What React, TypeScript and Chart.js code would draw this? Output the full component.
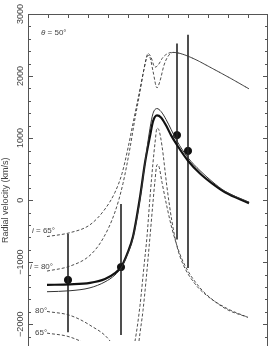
import React, { useEffect, useRef } from "react";
import { Chart, registerables } from "chart.js";

Chart.register(...registerables);

// Axis ranges (x: arbitrary phase units, y: radial velocity km/s)
const xRange = [0, 12];
const yRange = [-2270, 3000];
const yTickLabels = [3000, 2000, 1000, 0, -1000, -2000];
const xTopTicks = [1, 2, 3, 4, 5, 6, 7, 8, 9, 10, 11];

// Thick solid model curve
const thickX = [0.95, 2.1, 3.1, 3.85, 4.35, 4.65, 4.95, 5.25, 5.6, 5.85, 6.1, 6.25, 6.45, 6.65, 6.9, 7.15, 7.45, 8.0, 8.6, 9.2, 9.85, 11.05];
const thickY = [-1365, -1357, -1333, -1270, -1175, -1079, -873, -587, 48, 603, 1032, 1270, 1365, 1333, 1206, 1048, 889, 635, 429, 270, 127, -48];

// Thin solid model curve
const thinX = [0.95, 2.1, 3.1, 3.85, 4.35, 4.65, 4.95, 5.25, 5.6, 5.85, 6.1, 6.25, 6.45, 6.65, 6.9, 7.15, 7.45, 8.0, 8.6, 9.2, 9.85, 11.05];
const thinY = [-1476, -1460, -1413, -1317, -1206, -1095, -889, -603, 16, 603, 1159, 1397, 1476, 1429, 1302, 1143, 952, 683, 476, 302, 143, -32];

// Upper dashed, i = 65°
const up65X = [0.95, 2.1, 3.1, 3.85, 4.35, 4.7, 5.0, 5.25, 5.5, 5.75, 5.9, 6.0, 6.15, 6.35, 6.5, 6.75, 7.0, 7.25, 7.6, 8.35, 9.1, 10.1, 11.05];
const up65Y = [-587, -524, -397, -143, 127, 429, 841, 1238, 1635, 2032, 2270, 2365, 2302, 2143, 2175, 2302, 2365, 2381, 2365, 2270, 2143, 1968, 1794];

// Upper dashed, i = 80°
const up80X = [0.95, 2.1, 3.1, 3.75, 4.35, 4.75, 5.1, 5.35, 5.6, 5.8, 6.0, 6.1, 6.25, 6.45, 6.6, 6.8, 7.0, 7.25, 7.6, 8.35, 9.1, 10.1, 11.05];
const up80Y = [-1143, -1063, -889, -619, -190, 270, 841, 1317, 1746, 2111, 2333, 2302, 2079, 1810, 1921, 2175, 2317, 2381, 2365, 2270, 2143, 1968, 1794];

// Lower dashed, i = 80°
const lo80X = [0.95, 2.1, 3.1, 4.1, 4.6, 5.0, 5.35, 5.6, 5.8, 5.95, 6.1, 6.25, 6.35, 6.45, 6.55, 6.7, 6.95, 7.2, 7.45, 7.75, 8.35, 8.95, 9.95, 11.0];
const lo80Y = [-1794, -1857, -2016, -2270, -2571, -2683, -2270, -1698, -1063, -587, 48, 603, 921, 1159, 1127, 873, 206, -349, -746, -1032, -1349, -1540, -1746, -1889];

// Lower dashed, i = 65°
const lo65X = [0.95, 2.1, 3.1, 4.1, 5.0, 5.35, 5.55, 5.75, 5.9, 6.1, 6.25, 6.35, 6.45, 6.55, 6.7, 6.95, 7.2, 7.6, 8.0, 8.6, 9.1, 9.95, 11.0];
const lo65Y = [-2143, -2206, -2365, -2683, -3048, -2889, -2270, -1778, -1302, -587, -32, 317, 571, 540, 286, -111, -460, -873, -1143, -1413, -1571, -1762, -1889];

// Observations with error bars
const obsX = [2.0, 4.65, 7.45, 8.0];
const obsY = [-1286, -1079, 1048, 794];
const obsLow = [-2127, -2175, -635, -1095];
const obsHigh = [-540, -63, 2524, 2667];

const toPts = (xs: number[], ys: number[]) => xs.map((x, i) => ({ x, y: ys[i] }));

const FONT = "'Liberation Sans', 'DejaVu Sans', sans-serif";

export default function App() {
  const ref = useRef<HTMLCanvasElement | null>(null);

  useEffect(() => {
    document.body.style.margin = "0";
    const canvas = ref.current;
    if (!canvas) return;

    const dashed = (data: { x: number; y: number }[]) => ({
      type: "line" as const,
      data,
      borderColor: "#3a3a3a",
      borderWidth: 0.9,
      borderDash: [3, 2],
      pointRadius: 0,
      cubicInterpolationMode: "monotone" as const,
      fill: false,
    });

    const errDatasets = obsX.map((x, i) => ({
      type: "line" as const,
      data: [
        { x, y: obsLow[i] },
        { x, y: obsHigh[i] },
      ],
      borderColor: "#222",
      borderWidth: 1.6,
      pointRadius: 0,
      fill: false,
    }));

    const axesPlugin = {
      id: "axesPlugin",
      afterDraw(chart: any) {
        const { ctx, chartArea } = chart;
        const { left, top, right, bottom } = chartArea;
        const xs = chart.scales.x;
        const ys = chart.scales.y;
        ctx.save();
        ctx.strokeStyle = "#555";
        ctx.lineWidth = 1;
        ctx.beginPath();
        ctx.moveTo(left + 0.5, bottom + 5);
        ctx.lineTo(left + 0.5, top + 0.5);
        ctx.lineTo(right - 0.5, top + 0.5);
        ctx.lineTo(right - 0.5, bottom + 5);
        ctx.stroke();

        // y ticks, both sides
        ctx.beginPath();
        for (let v = -2200; v <= 3000; v += 200) {
          const py = Math.round(ys.getPixelForValue(v)) + 0.5;
          const len = v % 1000 === 0 ? 5 : 3;
          ctx.moveTo(left, py);
          ctx.lineTo(left + len, py);
          ctx.moveTo(right, py);
          ctx.lineTo(right - len, py);
        }
        // top ticks
        xTopTicks.forEach((t) => {
          const px = Math.round(xs.getPixelForValue(t)) + 0.5;
          ctx.moveTo(px, top);
          ctx.lineTo(px, top + 4);
        });
        ctx.stroke();

        // y tick labels (rotated)
        ctx.fillStyle = "#444";
        ctx.font = `9px ${FONT}`;
        ctx.textAlign = "center";
        ctx.textBaseline = "middle";
        yTickLabels.forEach((v) => {
          const py = ys.getPixelForValue(v);
          ctx.save();
          ctx.translate(left - 7, py);
          ctx.rotate(-Math.PI / 2);
          ctx.fillText(v < 0 ? "\u2212" + Math.abs(v) : String(v), 0, 0);
          ctx.restore();
        });

        // y axis title
        ctx.save();
        ctx.translate(6, ys.getPixelForValue(0));
        ctx.rotate(-Math.PI / 2);
        ctx.font = `9px ${FONT}`;
        ctx.fillText("Radial velocity (km/s)", 0, 0);
        ctx.restore();

        // annotations
        ctx.textAlign = "left";
        ctx.font = `8px ${FONT}`;
        const lab = (parts: [string, boolean][], vx: number, vy: number) => {
          let px = xs.getPixelForValue(vx);
          const py = ys.getPixelForValue(vy);
          parts.forEach(([s, it]) => {
            ctx.font = `${it ? "italic " : ""}8px ${FONT}`;
            ctx.fillText(s, px, py);
            px += ctx.measureText(s).width;
          });
        };
        lab([["\u03b8", true], [" = 50\u00b0", false]], 0.65, 2700);
        lab([["i", true], [" = 65\u00b0", false]], 0.2, -500);
        lab([["i", true], [" = 80\u00b0", false]], 0.1, -1080);
        lab([["80\u00b0", false]], 0.35, -1780);
        lab([["65\u00b0", false]], 0.35, -2130);
        ctx.restore();
      },
    };

    const chart = new Chart(canvas, {
      type: "line",
      data: {
        datasets: [
          dashed(toPts(up65X, up65Y)),
          dashed(toPts(up80X, up80Y)),
          dashed(toPts(lo80X, lo80Y)),
          dashed(toPts(lo65X, lo65Y)),
          {
            type: "line",
            data: toPts(thinX, thinY),
            borderColor: "#333",
            borderWidth: 1,
            pointRadius: 0,
            cubicInterpolationMode: "monotone",
            fill: false,
          },
          {
            type: "line",
            data: toPts(thickX, thickY),
            borderColor: "#111",
            borderWidth: 2.2,
            pointRadius: 0,
            cubicInterpolationMode: "monotone",
            fill: false,
          },
          ...errDatasets,
          {
            type: "scatter",
            data: toPts(obsX, obsY),
            backgroundColor: "#111",
            borderColor: "#111",
            pointRadius: 3.6,
            showLine: false,
          },
        ] as any,
      },
      options: {
        animation: false,
        responsive: false,
        layout: { padding: { left: 28, right: 10, top: 14, bottom: 0 } },
        plugins: { legend: { display: false }, tooltip: { enabled: false } },
        scales: {
          x: { type: "linear", min: xRange[0], max: xRange[1], display: false },
          y: { type: "linear", min: yRange[0], max: yRange[1], display: false },
        },
      },
      plugins: [axesPlugin],
    });
    return () => chart.destroy();
  }, []);

  return (
    <div style={{ width: 278, height: 346, background: "#fff" }}>
      <canvas ref={ref} width={278} height={346} style={{ display: "block" }} />
    </div>
  );
}
